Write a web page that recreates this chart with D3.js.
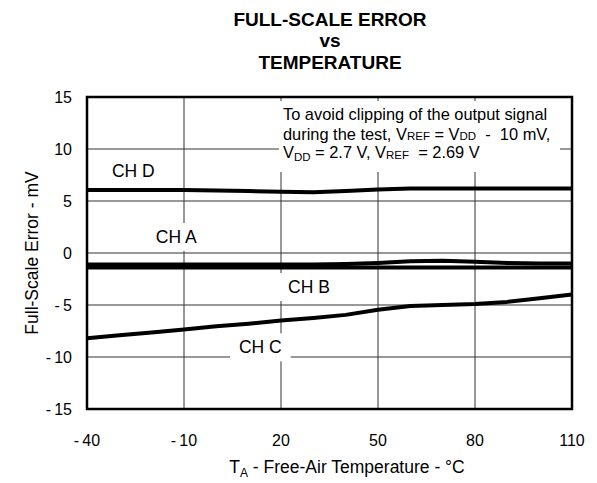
<!DOCTYPE html>
<html lang="en">
<head>
    <meta charset="UTF-8">
    <title>Full-Scale Error vs Temperature</title>
    <script src="https://d3js.org/d3.v7.min.js"></script>
    <style>
        body {
            margin: 0;
            padding: 0;
            background: #ffffff;
            font-family: 'Liberation Sans', Arial, sans-serif;
        }
        text { white-space: pre; }
        .title { font-size: 19px; font-weight: bold; text-anchor: middle; }
        .tick-label { font-size: 16px; }
        .axis-title { font-size: 17.5px; }
        .ch-label { font-size: 17.5px; }
        .note { font-size: 16.4px; }
    </style>
</head>
<body>
    <div id="chart"></div>

    <script>
        // temperatures sampled along the curves (°C)
        const temps = [-40, -30, -20, -10, 0, 10, 20, 30, 40, 50, 60, 70, 80, 90, 100, 110];
        // full-scale error per channel (mV)
        const chD = [6.05, 6.05, 6.05, 6.05, 6.0, 5.95, 5.9, 5.85, 5.95, 6.1, 6.2, 6.2, 6.2, 6.2, 6.2, 6.2];
        const chA = [-1.1, -1.1, -1.1, -1.1, -1.1, -1.1, -1.1, -1.1, -1.05, -0.95, -0.8, -0.75, -0.85, -0.95, -1.0, -1.0];
        const chB = [-1.4, -1.4, -1.4, -1.4, -1.4, -1.4, -1.4, -1.4, -1.4, -1.4, -1.4, -1.4, -1.4, -1.4, -1.4, -1.4];
        const chC = [-8.2, -7.9, -7.65, -7.35, -7.05, -6.8, -6.5, -6.25, -5.95, -5.45, -5.1, -5.0, -4.9, -4.7, -4.35, -4.0];

        const xTicks = [-40, -10, 20, 50, 80, 110];
        const yTicks = [-15, -10, -5, 0, 5, 10, 15];

        // channel label anchors, in data units (temp, mV)
        const chLabels = [
            {name: "CH D", t: -32.3, v: 7.35, box: false},
            {name: "CH A", t: -18.7, v: 0.95, box: true},
            {name: "CH B", t: 22.2, v: -3.85, box: true},
            {name: "CH C", t: 7.0, v: -9.65, box: true}
        ];

        const width = 597, height = 483;
        const margin = {top: 97, right: 25, bottom: 74, left: 87};

        const x = d3.scaleLinear().domain([-40, 110]).range([margin.left, width - margin.right]);
        const y = d3.scaleLinear().domain([-15, 15]).range([height - margin.bottom, margin.top]);

        const svg = d3.select("#chart").append("svg")
            .attr("width", width)
            .attr("height", height);

        // title, one text per line
        svg.append("text").attr("class", "title").attr("x", 330).attr("y", 26).text("FULL-SCALE ERROR");
        svg.append("text").attr("class", "title").attr("x", 330).attr("y", 47).text("vs");
        svg.append("text").attr("class", "title").attr("x", 330).attr("y", 69).text("TEMPERATURE");

        // grid
        svg.append("g").selectAll("line")
            .data(xTicks.slice(1, -1)).enter().append("line")
            .attr("x1", d => x(d)).attr("x2", d => x(d))
            .attr("y1", y(15)).attr("y2", y(-15))
            .attr("stroke", "#333").attr("stroke-width", 1);
        svg.append("g").selectAll("line")
            .data(yTicks.slice(1, -1)).enter().append("line")
            .attr("x1", x(-40)).attr("x2", x(110))
            .attr("y1", d => y(d)).attr("y2", d => y(d))
            .attr("stroke", "#333").attr("stroke-width", 1);

        // note box (covers grid)
        svg.append("rect")
            .attr("x", 279).attr("y", 101)
            .attr("width", 281).attr("height", 71)
            .attr("fill", "#fff");

        const note = svg.append("g").attr("class", "note");
        note.append("text").attr("x", 283).attr("y", 120).text("To avoid clipping of the output signal");
        const l2 = note.append("text").attr("x", 283).attr("y", 140);
        l2.append("tspan").text("during the test, V");
        l2.append("tspan").attr("font-size", "11.5px").text("REF");
        l2.append("tspan").text(" = V");
        l2.append("tspan").attr("font-size", "11.5px").text("DD");
        l2.append("tspan").text("  -  10 mV,");
        const l3 = note.append("text").attr("x", 283).attr("y", 158);
        l3.append("tspan").text("V");
        l3.append("tspan").attr("font-size", "11.5px").attr("dy", 3).text("DD");
        l3.append("tspan").attr("dy", -3).text(" = 2.7 V, V");
        l3.append("tspan").attr("font-size", "11.5px").attr("dy", 1).text("REF");
        l3.append("tspan").attr("dy", -1).text("  = 2.69 V");

        // channel labels with white backing
        chLabels.forEach(l => {
            const g = svg.append("g");
            const bg = g.append("rect").attr("fill", "#fff");
            const t = g.append("text").attr("class", "ch-label")
                .attr("x", x(l.t)).attr("y", y(l.v)).text(l.name);
            if (l.box) {
                const b = t.node().getBBox();
                bg.attr("x", b.x - 9).attr("y", b.y - 4)
                  .attr("width", b.width + 18).attr("height", b.height + 8);
            }
        });

        // curves
        const line = d3.line()
            .x((d, i) => x(temps[i]))
            .y(d => y(d));
        [chD, chA, chB, chC].forEach(s => {
            svg.append("path")
                .attr("d", line(s))
                .attr("fill", "none")
                .attr("stroke", "#000")
                .attr("stroke-width", 4)
                .attr("stroke-linejoin", "round");
        });

        // frame
        svg.append("rect")
            .attr("x", x(-40)).attr("y", y(15))
            .attr("width", x(110) - x(-40)).attr("height", y(-15) - y(15))
            .attr("fill", "none").attr("stroke", "#000").attr("stroke-width", 2.5);

        const fmt = d => d < 0 ? "-\u2009" + Math.abs(d) : String(d);

        svg.append("g").selectAll("text")
            .data(xTicks).enter().append("text")
            .attr("class", "tick-label")
            .attr("x", d => x(d)).attr("y", 446)
            .attr("text-anchor", "middle")
            .text(fmt);

        svg.append("g").selectAll("text")
            .data(yTicks).enter().append("text")
            .attr("class", "tick-label")
            .attr("x", 72).attr("y", d => y(d) + 6)
            .attr("text-anchor", "end")
            .text(fmt);

        // axis titles
        const xt = svg.append("text").attr("class", "axis-title")
            .attr("x", 347).attr("y", 473).attr("text-anchor", "middle");
        xt.append("tspan").text("T");
        xt.append("tspan").attr("font-size", "12px").attr("dy", 4).text("A");
        xt.append("tspan").attr("dy", -4).text(" - Free-Air Temperature - \u00B0C");

        svg.append("text").attr("class", "axis-title")
            .attr("transform", "translate(38," + y(0) + ") rotate(-90)")
            .attr("text-anchor", "middle")
            .text("Full-Scale Error - mV");
    </script>
</body>
</html>
